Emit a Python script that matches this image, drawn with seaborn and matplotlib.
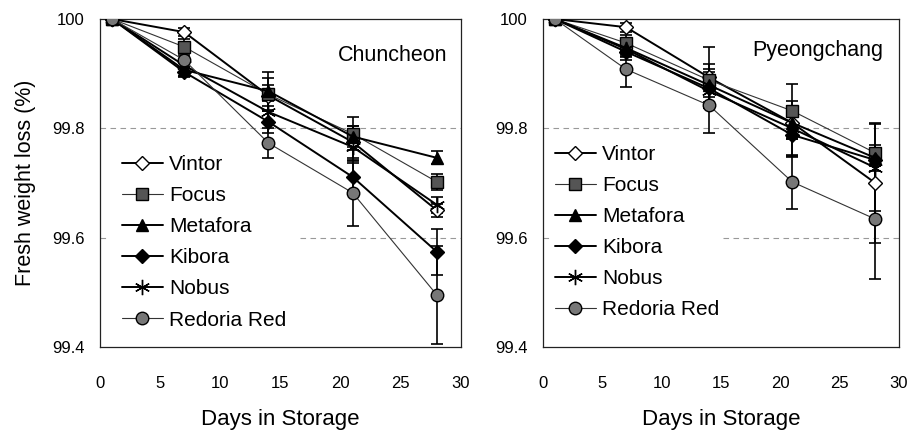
import matplotlib
matplotlib.use("Agg")
import matplotlib.pyplot as plt
import seaborn as sns
import pandas as pd
import numpy as np

days = [1, 7, 14, 21, 28]
cultivars = ["Vintor", "Focus", "Metafora", "Kibora", "Nobus", "Redoria Red"]

chun = {
    "Vintor":      [100.0, 99.976, 99.860, 99.775, 99.650],
    "Focus":       [100.0, 99.949, 99.862, 99.790, 99.702],
    "Metafora":    [100.0, 99.907, 99.868, 99.785, 99.746],
    "Kibora":      [100.0, 99.903, 99.812, 99.711, 99.574],
    "Nobus":       [100.0, 99.915, 99.830, 99.766, 99.660],
    "Redoria Red": [100.0, 99.925, 99.773, 99.682, 99.495],
}
chun_err = {
    "Vintor":      [0.0, 0.008, 0.020, 0.030, 0.012],
    "Focus":       [0.0, 0.015, 0.030, 0.030, 0.015],
    "Metafora":    [0.0, 0.012, 0.035, 0.020, 0.012],
    "Kibora":      [0.0, 0.010, 0.020, 0.025, 0.042],
    "Nobus":       [0.0, 0.012, 0.020, 0.025, 0.015],
    "Redoria Red": [0.0, 0.012, 0.027, 0.060, 0.090],
}
pyeong = {
    "Vintor":      [100.0, 99.985, 99.893, 99.810, 99.700],
    "Focus":       [100.0, 99.956, 99.888, 99.832, 99.755],
    "Metafora":    [100.0, 99.947, 99.879, 99.810, 99.746],
    "Kibora":      [100.0, 99.940, 99.873, 99.788, 99.742],
    "Nobus":       [100.0, 99.945, 99.868, 99.800, 99.728],
    "Redoria Red": [100.0, 99.908, 99.842, 99.702, 99.634],
}
pyeong_err = {
    "Vintor":      [0.0, 0.008, 0.055, 0.030, 0.110],
    "Focus":       [0.0, 0.015, 0.030, 0.050, 0.015],
    "Metafora":    [0.0, 0.015, 0.030, 0.030, 0.015],
    "Kibora":      [0.0, 0.015, 0.030, 0.040, 0.020],
    "Nobus":       [0.0, 0.015, 0.030, 0.050, 0.080],
    "Redoria Red": [0.0, 0.033, 0.050, 0.050, 0.110],
}

markers = {"Vintor": "D", "Focus": "s", "Metafora": "^", "Kibora": "D",
           "Nobus": (6, 2, 0), "Redoria Red": "o"}
msize = {"Vintor": 7.5, "Focus": 8.5, "Metafora": 9, "Kibora": 7.5, "Nobus": 11, "Redoria Red": 9}
mface = {"Vintor": "white", "Focus": "#555555", "Metafora": "black", "Kibora": "black",
         "Nobus": "black", "Redoria Red": "#777777"}
lw = {"Vintor": 1.4, "Focus": 0.8, "Metafora": 1.4, "Kibora": 1.4, "Nobus": 1.4, "Redoria Red": 0.8}
lcol = {"Vintor": "black", "Focus": "#333333", "Metafora": "black", "Kibora": "black",
        "Nobus": "black", "Redoria Red": "#333333"}

sns.set_style("white")
plt.rcParams["font.family"] = ["Liberation Sans", "DejaVu Sans"]
plt.rcParams["text.color"] = "black"
plt.rcParams["axes.labelcolor"] = "black"
plt.rcParams["xtick.color"] = "black"
plt.rcParams["ytick.color"] = "black"

fig = plt.figure(figsize=(9.12, 4.30), dpi=100)
ax1 = fig.add_axes([100/912, 1-347/430, 361/912, 328/430])
ax2 = fig.add_axes([543/912, 1-347/430, 356/912, 328/430])

def draw(ax, vals, errs, title, title_xy, leg_xy, grid_gap):
    rows = []
    for c in cultivars:
        for d, v in zip(days, vals[c]):
            rows.append({"day": d, "value": v, "cultivar": c})
    df = pd.DataFrame(rows)
    ax.axhline(99.8, color="#999999", lw=0.8, ls=(0, (5, 4)), zorder=0)
    ax.axhline(99.6, xmin=0, xmax=0.02, color="#999999", lw=0.8, ls=(0, (5, 4)), zorder=0)
    ax.axhline(99.6, xmin=grid_gap, xmax=1, color="#999999", lw=0.8, ls=(0, (5, 4)), zorder=0)
    for c in cultivars:
        ax.errorbar(days, vals[c], yerr=errs[c], fmt="none", ecolor="black",
                    elinewidth=1.2, capsize=4.5, capthick=1.2, zorder=2)
    for c in cultivars:
        sub = df[df["cultivar"] == c]
        sns.lineplot(data=sub, x="day", y="value", ax=ax, color=lcol[c], lw=lw[c],
                     marker=markers[c], markersize=msize[c], markerfacecolor=mface[c],
                     markeredgecolor="black", markeredgewidth=1.0, label=c,
                     legend=True, zorder=3)
    ax.set_xlim(0, 30)
    ax.set_ylim(99.4, 100)
    ax.set_xticks([0, 5, 10, 15, 20, 25, 30])
    ax.set_yticks([99.4, 99.6, 99.8, 100])
    ax.set_yticklabels(["99.4", "99.6", "99.8", "100"])
    ax.tick_params(axis="x", labelsize=12, length=0, pad=21, labelcolor="black")
    ax.tick_params(axis="y", labelsize=12, length=0, pad=11, labelcolor="black")
    ax.set_xlabel("Days in Storage", fontsize=16, labelpad=13, color="black")
    ax.set_ylabel("")
    for s in ax.spines.values():
        s.set_color("#222222")
        s.set_linewidth(0.9)
    ax.text(title_xy[0], title_xy[1], title, transform=ax.transAxes, ha="right",
            va="center", fontsize=15.5, color="black")
    leg = ax.legend(loc="upper left", bbox_to_anchor=leg_xy, frameon=False,
                    fontsize=15, handlelength=1.95, labelspacing=0.58, borderpad=0.0,
                    handletextpad=0.3, borderaxespad=0.0)
    for t in leg.get_texts():
        t.set_color("black")

draw(ax1, chun, chun_err, "Chuncheon", (0.961, 0.89), (0.061, 0.585), 0.555)
draw(ax2, pyeong, pyeong_err, "Pyeongchang", (0.955, 0.905), (0.034, 0.616), 0.505)
ax1.set_ylabel("Fresh weight loss (%)", fontsize=15.5, labelpad=12, color="black")

fig.savefig("out.png", dpi=100)
